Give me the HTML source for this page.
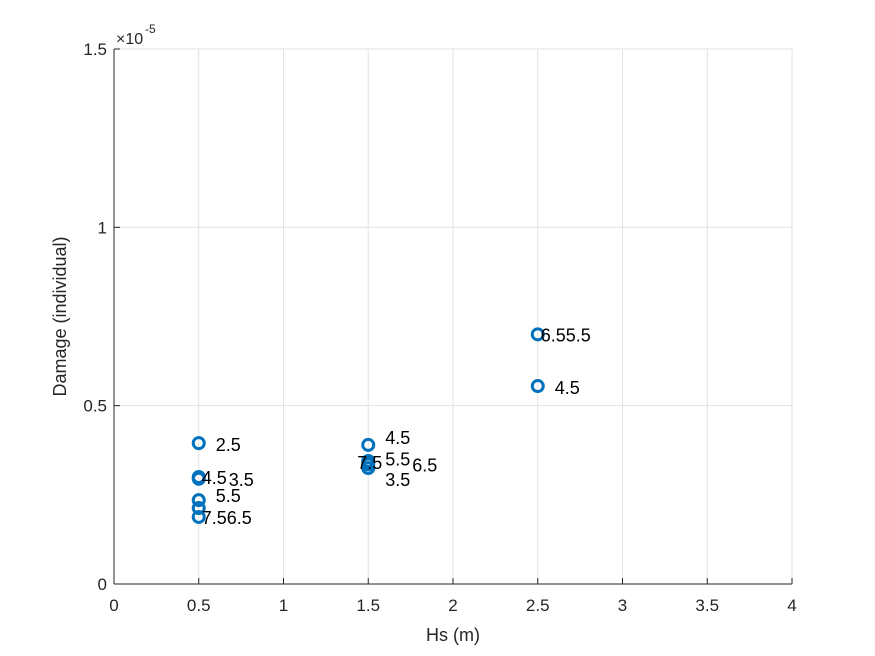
<!DOCTYPE html>
<html><head><meta charset="utf-8"><style>
body{margin:0;background:#fff}
svg{display:block;font-family:"Liberation Sans",sans-serif}
</style></head><body>
<svg id="chart" width="875" height="656">
<rect width="875" height="656" fill="#fff"/>
<g id="grid"></g><g id="axes"></g><g id="marks"></g>
</svg>
<script>
const xTicks=[0,0.5,1,1.5,2,2.5,3,3.5,4];
const xTickLabels=["0","0.5","1","1.5","2","2.5","3","3.5","4"];
const yTicks=[0,0.5,1,1.5];
const yTickLabels=["0","0.5","1","1.5"];
const hs=[0.5,0.5,0.5,0.5,0.5,0.5,1.5,1.5,1.5,1.5,1.5,2.5,2.5];
const damage=[0.395,0.300,0.295,0.235,0.213,0.188,0.390,0.345,0.340,0.335,0.325,0.700,0.555];
const labels=["2.5","4.5","3.5","5.5","","7.56.5","4.5","7.5","5.5","6.5","3.5","6.55.5","4.5"];
const labelDx=[17,3,30,17,0,3,17,-11,17,44,17,3,17];
const labelDy=[1,0,0,-5,0,0,-8,1,-4,0,11,0,1];
const NS="http://www.w3.org/2000/svg";
const L=114,R=792,T=49,B=584;
const xs=v=>L+(v-0)/(4-0)*(R-L);
const ys=v=>B-(v-0)/(1.5-0)*(B-T);
function mk(tag,at,parent,txt){const e=document.createElementNS(NS,tag);for(const k in at)e.setAttribute(k,at[k]);if(txt!==undefined)e.textContent=txt;parent.appendChild(e);return e;}
const grid=document.getElementById('grid'),axes=document.getElementById('axes'),marks=document.getElementById('marks');
xTicks.forEach((t,i)=>{
 const g=mk('line',{x1:xs(t),x2:xs(t),y1:T,y2:B,stroke:'#e3e3e3','stroke-width':1},grid);
 
 
 mk('line',{x1:xs(t),x2:xs(t),y1:B,y2:B-6,stroke:'#262626'},axes);
 const tl=mk('text',{x:xs(t),y:B+27,'text-anchor':'middle','font-size':17,fill:'#262626'},axes,xTickLabels[i]);
 
 
});
yTicks.forEach((t,i)=>{
 const g=mk('line',{x1:L,x2:R,y1:ys(t),y2:ys(t),stroke:'#e3e3e3','stroke-width':1},grid);
 
 
 mk('line',{x1:L,x2:L+6,y1:ys(t),y2:ys(t),stroke:'#262626'},axes);
 const tl=mk('text',{x:L-7,y:ys(t)+6,'text-anchor':'end','font-size':17,fill:'#262626'},axes,yTickLabels[i]);
 
 
});
mk('line',{x1:L,x2:R,y1:B,y2:B,stroke:'#262626'},axes);
mk('line',{x1:L,x2:L,y1:T,y2:B,stroke:'#262626'},axes);
const ex=mk('text',{x:116,y:44,'font-size':16,fill:'#262626'},axes,'×10');


mk('text',{x:145,y:33,'font-size':12,fill:'#262626'},axes,'-5');
const xt=mk('text',{x:453,y:641,'text-anchor':'middle','font-size':18,fill:'#262626'},axes,'Hs (m)');


const yt=mk('text',{x:0,y:0,'text-anchor':'middle','font-size':18,fill:'#262626',transform:`translate(66,${(T+B)/2}) rotate(-90)`},axes,'Damage (individual)');


hs.forEach((h,i)=>{
 const c=mk('circle',{cx:xs(h),cy:ys(damage[i]),r:5.5,fill:'none',stroke:'#0072BD','stroke-width':3},marks);
 
 
});
hs.forEach((h,i)=>{
 if(!labels[i])return;
 const t=mk('text',{x:xs(h)+labelDx[i],y:ys(damage[i])+labelDy[i]+7,'font-size':18,fill:'#000'},marks,labels[i]);
 
 
});
</script>
</body></html>
